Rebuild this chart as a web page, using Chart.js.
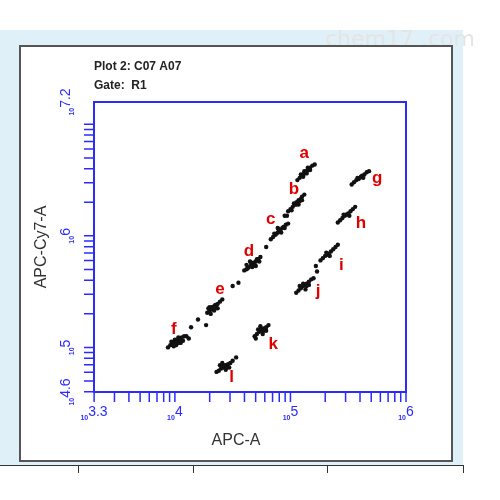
<!DOCTYPE html>
<html>
<head>
<meta charset="utf-8">
<script src="https://cdn.jsdelivr.net/npm/chart.js@4"></script>
<style>
  body { margin: 0; background: #fff; }
  #wrap { width: 500px; height: 500px; }
</style>
</head>
<body>
<div id="wrap"><canvas id="plot" width="500" height="500"></canvas></div>
<script>
// all values are log10 of the fluorescence intensity
const xRange = [3.3, 6];
const yRange = [4.6, 7.2];
const xTickLabels = ['3.3', '4', '5', '6'];
const yTickLabels = ['4.6', '5', '6', '7.2'];

const clusterNames = ['a', 'b', 'c', 'd', 'e', 'f', 'g', 'h', 'i', 'j', 'k', 'l'];
const labelX = [5.12, 5.03, 4.83, 4.64, 4.39, 3.99, 5.75, 5.61, 5.44, 5.24, 4.85, 4.49];
const labelY = [6.74, 6.42, 6.15, 5.86, 5.52, 5.16, 6.52, 6.11, 5.74, 5.50, 5.03, 4.73];

const events = [
  // a
  [5.06,6.50],[5.08,6.52],[5.10,6.54],[5.11,6.55],[5.12,6.56],[5.13,6.57],[5.14,6.58],[5.15,6.59],[5.16,6.60],[5.17,6.61],[5.19,6.63],[5.12,6.58],[5.14,6.56],[5.21,6.64],
  [5.11,6.53],[5.15,6.61],[5.17,6.59],[5.09,6.55],
  // b
  [4.98,6.22],[5.00,6.24],[5.02,6.26],[5.04,6.28],[5.05,6.30],[5.06,6.30],[5.07,6.32],[5.09,6.33],[5.10,6.35],[5.12,6.37],[5.05,6.28],[5.08,6.31],[4.95,6.18],
  [5.03,6.29],[5.07,6.28],[5.10,6.32],[5.01,6.23],
  // c
  [4.83,5.97],[4.85,5.99],[4.87,6.01],[4.89,6.03],[4.90,6.04],[4.91,6.05],[4.93,6.07],[4.94,6.08],[4.96,6.10],[4.90,6.06],[4.88,6.02],[4.98,6.11],
  [4.86,6.02],[4.92,6.03],[4.95,6.07],[4.89,6.07],
  // d
  [4.60,5.69],[4.62,5.70],[4.64,5.72],[4.66,5.74],[4.67,5.75],[4.68,5.76],[4.70,5.77],[4.72,5.79],[4.74,5.81],[4.66,5.76],[4.69,5.74],[4.63,5.71],[4.71,5.79],
  [4.62,5.74],[4.65,5.77],[4.70,5.73],[4.73,5.77],[4.67,5.72],
  // e
  [4.28,5.31],[4.30,5.33],[4.32,5.34],[4.33,5.36],[4.34,5.37],[4.35,5.38],[4.37,5.39],[4.39,5.41],[4.32,5.36],[4.36,5.36],[4.41,5.43],
  [4.30,5.36],[4.34,5.33],[4.37,5.35],[4.31,5.30],[4.29,5.35],
  // f
  [3.94,5.00],[3.96,5.02],[3.98,5.04],[4.00,5.05],[4.01,5.06],[4.02,5.06],[4.04,5.07],[4.06,5.09],[4.08,5.10],[4.00,5.07],[4.03,5.04],[4.10,5.10],[4.12,5.08],
  [3.97,5.05],[4.01,5.02],[4.05,5.04],[4.07,5.06],[4.03,5.09],[3.99,5.01],
  // g
  [5.53,6.46],[5.55,6.48],[5.57,6.50],[5.59,6.51],[5.60,6.52],[5.62,6.54],[5.64,6.55],[5.66,6.57],[5.68,6.58],[5.61,6.53],
  [5.58,6.52],[5.63,6.52],
  // h
  [5.41,6.12],[5.43,6.14],[5.45,6.16],[5.47,6.18],[5.49,6.19],[5.50,6.20],[5.52,6.22],[5.54,6.24],[5.56,6.26],[5.48,6.19],
  [5.46,6.19],[5.51,6.18],
  // i
  [5.26,5.78],[5.28,5.80],[5.30,5.82],[5.32,5.83],[5.33,5.84],[5.35,5.86],[5.37,5.88],[5.39,5.90],[5.41,5.92],[5.22,5.73],
  [5.31,5.85],[5.34,5.82],
  // j
  [5.05,5.49],[5.07,5.51],[5.09,5.53],[5.11,5.55],[5.12,5.56],[5.14,5.57],[5.16,5.59],[5.18,5.61],[5.11,5.57],[5.14,5.55],[5.20,5.62],
  [5.08,5.55],[5.13,5.52],[5.16,5.56],
  // k
  [4.69,5.10],[4.71,5.12],[4.73,5.14],[4.75,5.15],[4.76,5.16],[4.77,5.17],[4.79,5.18],[4.81,5.20],[4.74,5.16],[4.78,5.15],[4.70,5.08],
  [4.72,5.16],[4.76,5.12],[4.79,5.15],[4.74,5.19],
  // l
  [4.36,4.78],[4.38,4.79],[4.40,4.81],[4.42,4.82],[4.43,4.83],[4.44,4.84],[4.46,4.85],[4.48,4.86],[4.42,4.84],[4.45,4.82],[4.50,4.88],[4.53,4.91],
  [4.39,4.84],[4.44,4.80],[4.47,4.82],[4.41,4.86],
  // stray events between populations
  [4.20,5.25],[4.14,5.18],[4.50,5.55],[4.55,5.58],[4.79,5.90],[4.97,6.18],[5.23,5.68],[4.27,5.20]
];

const blue = '#2b2bff';

// log axis ticks, frame and labels drawn with the scales' own positions
const decor = {
  id: 'decor',
  beforeDraw(chart) {
    const c = chart.ctx;
    c.save();
    c.fillStyle = '#fff';
    c.fillRect(0, 0, chart.width, chart.height);
    c.fillStyle = '#dff0f8';
    c.fillRect(0, 30, 463, 436);
    c.fillStyle = '#e4e4e4';
    c.font = '22px "DejaVu Sans"';
    c.fillText('chem17 .com', 325, 46);
    c.fillStyle = '#fff';
    c.fillRect(20, 46, 432, 415);
    c.strokeStyle = '#555';
    c.lineWidth = 2;
    c.strokeRect(20, 46, 432, 415);
    c.strokeStyle = '#333';
    c.lineWidth = 1;
    c.beginPath();
    c.moveTo(0, 465.5); c.lineTo(463, 465.5);
    [78, 193, 327, 463].forEach(x => { c.moveTo(x + 0.5, 465); c.lineTo(x + 0.5, 473); });
    c.stroke();
    c.restore();
  },
  afterDraw(chart) {
    const c = chart.ctx, a = chart.chartArea;
    const xs = chart.scales.x, ys = chart.scales.y;
    c.save();
    c.strokeStyle = blue;
    c.lineWidth = 2;
    c.strokeRect(a.left, a.top, a.right - a.left, a.bottom - a.top);
    c.lineWidth = 1.5;
    c.beginPath();
    for (let d = 3; d <= 7; d++) {
      for (let m = 1; m <= 9; m++) {
        const v = d + Math.log10(m);
        if (v >= xRange[0] && v <= xRange[1]) {
          const px = xs.getPixelForValue(v);
          c.moveTo(px, a.bottom); c.lineTo(px, a.bottom + 10);
        }
        if (v >= yRange[0] && v <= 7.01) {
          const py = ys.getPixelForValue(v);
          c.moveTo(a.left, py); c.lineTo(a.left - 10, py);
        }
      }
    }
    c.stroke();

    c.fillStyle = blue;
    c.textBaseline = 'alphabetic';
    xTickLabels.forEach(t => {
      const px = xs.getPixelForValue(parseFloat(t));
      c.font = 'bold 7px Arial';
      const w1 = c.measureText('10').width;
      c.font = '14px Arial';
      const w2 = c.measureText(t).width;
      const x0 = px - (w1 + w2) / 2;
      c.font = 'bold 7px Arial';
      c.fillText('10', x0, a.bottom + 28);
      c.font = '14px Arial';
      c.fillText(t, x0 + w1, a.bottom + 24);
    });
    yTickLabels.forEach(t => {
      const py = ys.getPixelForValue(parseFloat(t));
      c.save();
      c.translate(a.left - 20, py);
      c.rotate(-Math.PI / 2);
      c.font = 'bold 7px Arial';
      const w1 = c.measureText('10').width;
      c.font = '14px Arial';
      const w2 = c.measureText(t).width;
      const x0 = -(w1 + w2) / 2;
      c.font = 'bold 7px Arial';
      c.fillText('10', x0, 0);
      c.font = '14px Arial';
      c.fillText(t, x0 + w1, -4);
      c.restore();
    });

    c.fillStyle = '#222';
    c.font = 'bold 12px Arial';
    c.fillText('Plot 2: C07 A07', 94, 70);
    c.fillText('Gate:  R1', 94, 89);
    c.fillStyle = '#333';
    c.font = '16px Arial';
    c.textAlign = 'center';
    c.fillText('APC-A', (a.left + a.right) / 2 - 14, 445);
    c.save();
    c.translate(46, (a.top + a.bottom) / 2);
    c.rotate(-Math.PI / 2);
    c.fillText('APC-Cy7-A', 0, 0);
    c.restore();

    c.fillStyle = '#e00000';
    c.font = 'bold 17px Arial';
    c.textBaseline = 'middle';
    clusterNames.forEach((n, i) => {
      c.fillText(n, xs.getPixelForValue(labelX[i]), ys.getPixelForValue(labelY[i]));
    });
    c.restore();
  }
};

new Chart(document.getElementById('plot'), {
  type: 'scatter',
  data: {
    datasets: [{
      data: events.map(p => ({ x: p[0], y: p[1] })),
      backgroundColor: '#111',
      borderColor: '#111',
      pointRadius: 2.2,
      borderWidth: 0
    }]
  },
  options: {
    responsive: false,
    animation: false,
    layout: { padding: { left: 94, right: 94, top: 102, bottom: 108 } },
    plugins: { legend: { display: false }, tooltip: { enabled: false } },
    scales: {
      x: { type: 'linear', min: xRange[0], max: xRange[1], display: false },
      y: { type: 'linear', min: yRange[0], max: yRange[1], display: false }
    }
  },
  plugins: [decor]
});
</script>
</body>
</html>
